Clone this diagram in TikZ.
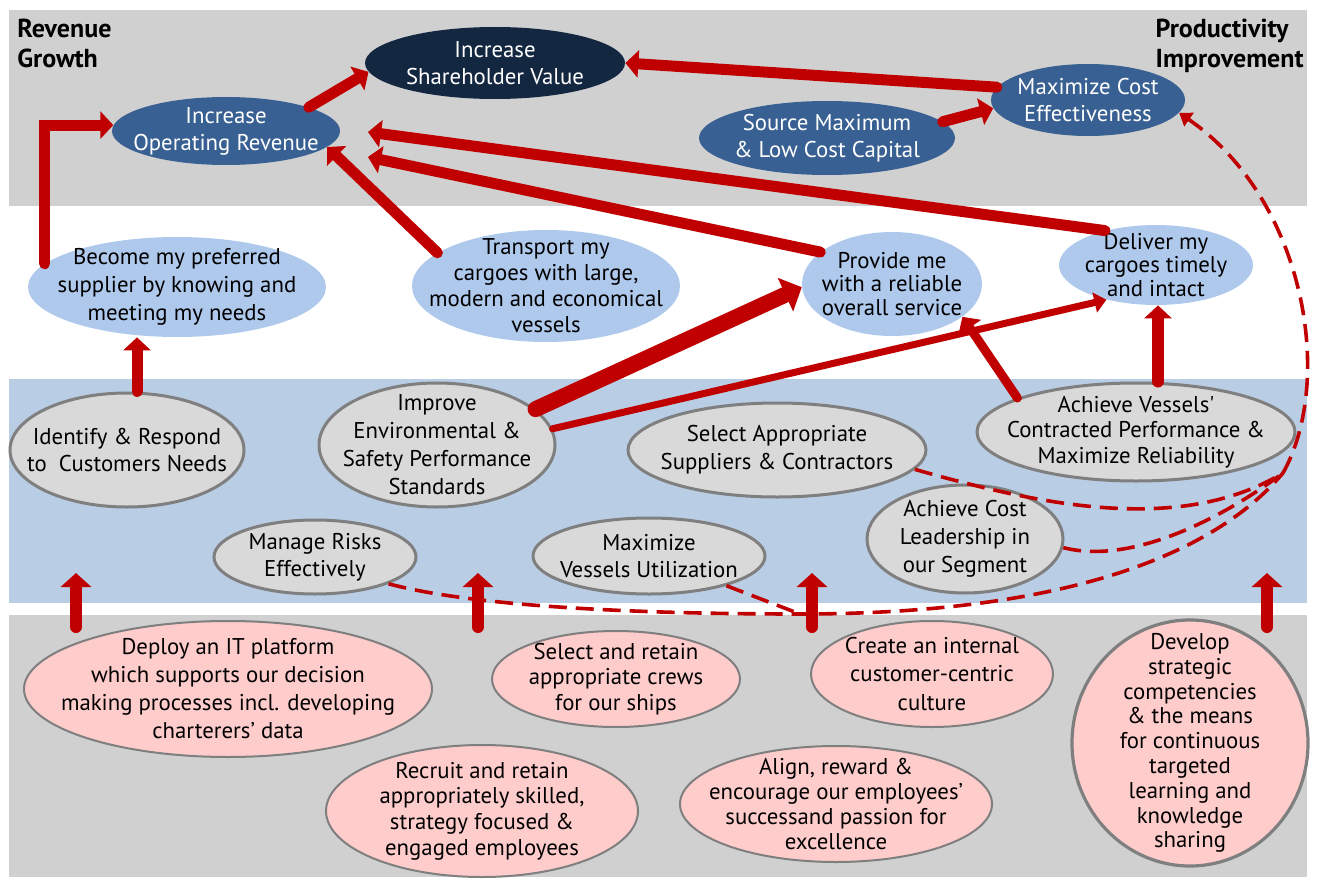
\documentclass[tikz,border=0pt]{standalone}
\usepackage{fontspec}
\setmainfont{PT Sans}
\usetikzlibrary{shapes.geometric,arrows.meta}

\definecolor{bandgray}{RGB}{208,208,208}
\definecolor{bandblue}{RGB}{185,205,229}
\definecolor{navy}{RGB}{20,39,64}
\definecolor{midblue}{RGB}{56,96,146}
\definecolor{paleblue}{RGB}{175,201,237}
\definecolor{nodegray}{RGB}{217,217,217}
\definecolor{edgegray}{RGB}{127,127,127}
\definecolor{pink}{RGB}{255,204,204}
\definecolor{arrowred}{RGB}{192,0,0}

\tikzset{
  goal/.style={ellipse, inner sep=-150pt, align=center,
    font=\fontsize{11.4}{13.5}\selectfont},
  fin/.style={goal, fill=midblue, text=white},
  cust/.style={goal, fill=paleblue},
  proc/.style={goal, fill=nodegray, draw=edgegray, line width=1.5pt},
  learn/.style={goal, fill=pink, draw=edgegray, line width=1pt},
  head/.style={inner sep=0pt, align=left, font=\bfseries\fontsize{13}{15}\selectfont},
  link/.style={draw=arrowred, line width=5.5pt, line cap=round,
    -{Triangle[length=6.5pt,width=13.5pt]}},
  hint/.style={draw=arrowred, line width=1.8pt, dash pattern=on 9pt off 4.5pt}
}

\begin{document}
\begin{tikzpicture}[x=0.5pt,y=-0.5pt]
    \useasboundingbox (0,0) rectangle (1317,888);
    \fill[bandgray] (9,10) rectangle (1307,206);% financial band
    \fill[bandblue] (9,379) rectangle (1307,603);% process band
    \fill[bandgray] (9,615) rectangle (1307,877);% learning band

    \node[head, anchor=north west] (growth) at (17,19) {Revenue\\Growth};
    \node[head, anchor=north east] (prod) at (1304,19) {Productivity\\Improvement};

    % financial perspective
    \node[goal, fill=navy, text=white, minimum width=130pt, minimum height=36pt] (share) at (495,63) {Increase\\Shareholder Value};
    \node[fin, minimum width=114pt, minimum height=34pt] (oprev) at (226,131) {Increase\\Operating Revenue};
    \node[fin, minimum width=97pt, minimum height=36pt] (maxcost) at (1088,100) {Maximize Cost\\Effectiveness};
    \node[fin, minimum width=128pt, minimum height=37pt] (source) at (827,138) {Source Maximum\\\& Low Cost Capital};

    % customer perspective
    \node[cust, minimum width=149pt, minimum height=50pt, font=\fontsize{11.4}{14}\selectfont] (become) at (177,287) {Become my preferred\\supplier by knowing and\\meeting my needs};
    \node[cust, minimum width=134pt, minimum height=56pt, font=\fontsize{11.4}{13}\selectfont] (transport) at (546,286) {Transport my\\cargoes with large,\\modern and economical\\vessels};
    \node[cust, minimum width=90pt, minimum height=52pt, font=\fontsize{11.4}{11.8}\selectfont] (provide) at (892,284) {Provide me\\with a reliable\\overall service};
    \node[cust, minimum width=97pt, minimum height=40pt, font=\fontsize{11.4}{11.8}\selectfont] (deliver) at (1156,265) {Deliver my\\cargoes timely\\and intact};

    % internal processes
    \node[proc, minimum width=117pt, minimum height=57pt] (identify) at (127,450) {Identify \& Respond\\to\ \ Customers Needs};
    \node[proc, minimum width=118pt, minimum height=62pt, font=\fontsize{11.4}{14}\selectfont] (improve) at (437,445) {Improve\\Environmental \&\\Safety Performance\\Standards};
    \node[proc, minimum width=149pt, minimum height=47pt, font=\fontsize{11.4}{14}\selectfont] (select) at (777,450) {Select Appropriate\\Suppliers \& Contractors};
    \node[proc, minimum width=159pt, minimum height=49pt, font=\fontsize{11.4}{12.8}\selectfont] (vessels) at (1136,432) {Achieve Vessels\textquotesingle\\Contracted Performance \&\\Maximize Reliability};
    \node[proc, minimum width=98pt, minimum height=54pt, font=\fontsize{11.4}{14}\selectfont] (costlead) at (965,539) {Achieve Cost\\Leadership in\\our Segment};
    \node[proc, minimum width=101pt, minimum height=37pt] (risks) at (315,557) {Manage Risks\\Effectively};
    \node[proc, minimum width=116pt, minimum height=38pt] (utilize) at (649,556) {Maximize\\Vessels Utilization};

    % learning and growth
    \node[learn, minimum width=204pt, minimum height=68pt, font=\fontsize{11.4}{14}\selectfont] (deploy) at (228,689) {Deploy an IT platform\\which supports our decision\\making processes incl. developing\\charterers’ data};
    \node[learn, minimum width=124pt, minimum height=48pt, font=\fontsize{11.4}{12.8}\selectfont] (crews) at (616,679) {Select and retain\\appropriate crews\\for our ships};
    \node[learn, minimum width=121pt, minimum height=53pt, font=\fontsize{11.4}{14.2}\selectfont] (culture) at (932,674) {Create an internal\\customer-centric\\culture};
    \node[learn, minimum width=156pt, minimum height=66pt, font=\fontsize{11.4}{12.8}\selectfont] (recruit) at (482,811) {Recruit and retain\\appropriately skilled,\\strategy focused \&\\engaged employees};
    \node[learn, minimum width=156pt, minimum height=58pt, font=\fontsize{11.4}{12.5}\selectfont] (reward) at (836,804) {Align, reward \&\\encourage our employees’\\successand passion for\\excellence};
    \node[learn, line width=1.6pt, minimum width=118pt, minimum height=123pt, font=\fontsize{11.4}{12.4}\selectfont] (develop) at (1190,743) {Develop\\strategic\\competencies\\\& the means\\for continuous\\targeted\\learning and\\knowledge\\sharing};

    \coordinate (revtipa) at (368,157);
    \coordinate (revtipb) at (368,132);
    \coordinate (hub) at (1283,473);% where the dashed links meet
    \coordinate (merge) at (800,614);
    \coordinate (idtop) at ([xshift=5pt]identify.north);
    \coordinate (vtop) at ([xshift=11pt]vessels.north);

    % solid links
    \draw[link] (become.170) |- (oprev.177);
    \draw[link] (oprev.16) -- (share.184);
    \draw[link] (maxcost.172) -- (share.east);
    \draw[link] (source.8) -- (maxcost.185);
    \draw[link] (transport.163) -- (oprev.-9);
    \draw[link] (provide.156) -- (revtipa);
    \draw[link] (deliver.146) -- (revtipb);
    \draw[link] (idtop) -- (idtop |- become.south);
    \draw[link, line width=8pt, -{Triangle[length=9pt,width=18pt]}] (improve.20) -- (provide.182);
    \draw[link, line width=3.5pt, -{Triangle[length=6pt,width=10pt]}] (improve.8) -- (deliver.215);
    \draw[link, line width=4.5pt] (vessels.164) -- (provide.-25);
    \draw[link, line width=6pt] (vtop) -- (vtop |- deliver.south);
    \foreach \x [count=\i] in {76,478,812,1267}{% arrows out of the learning band
      \coordinate (foot\i) at (\x,627);
      \coordinate (tip\i) at (\x,573);
      \draw[link, line width=6pt, -{Triangle[length=7pt,width=15pt]}] (foot\i) -- (tip\i);
    }

    % dashed links
    \draw[hint] (select.-8) .. controls (1040,505) and (1180,535) .. (hub);
    \draw[hint] (costlead.-5) .. controls (1130,565) and (1220,520) .. (hub);
    \draw[hint] (risks.-20) .. controls (460,603) and (600,614) .. (merge)
        .. controls (1080,614) and (1220,548) .. (hub);
    \draw[hint] (utilize.-21) -- (merge);
    \draw[hint, -{Triangle[length=6pt,width=8pt]}] (hub)
        .. controls (1335,380) and (1305,200) .. (maxcost.-8);
\end{tikzpicture}
\end{document}
